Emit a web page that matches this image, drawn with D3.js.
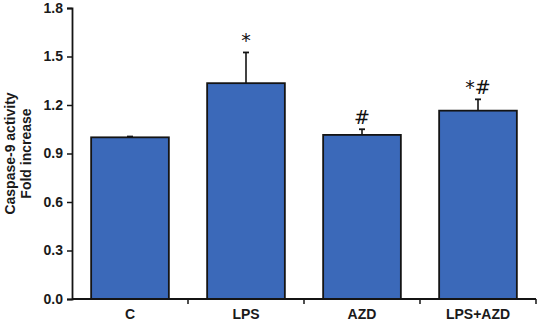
<!DOCTYPE html>
<html>
<head>
<meta charset="utf-8">
<script src="https://cdn.jsdelivr.net/npm/d3@7"></script>
<style>
  body { margin: 0; background: #fff; }
  svg { display: block; font-family: "Liberation Sans", Arial, sans-serif; }
</style>
</head>
<body>
<svg class="chart" width="540" height="322"></svg>
<script>
// data
var groups = ["C", "LPS", "AZD", "LPS+AZD"];
var means = [1.0, 1.335, 1.015, 1.165];
var errors = [0.005, 0.19, 0.035, 0.07];
var marks = ["", "*", "#", "*#"];
var yTicks = [0.0, 0.3, 0.6, 0.9, 1.2, 1.5, 1.8];

var svg = d3.select("svg.chart"),
    margin = { left: 72, right: 4, top: 8, bottom: 23 },
    width = 540 - margin.left - margin.right,
    height = 322 - margin.top - margin.bottom;

var g = svg.append("g").attr("transform", `translate(${margin.left},${margin.top})`);

var x = d3.scaleBand().domain(groups).range([0, width]).paddingInner(0.33).paddingOuter(0.165);
var y = d3.scaleLinear().domain([0, 1.8]).range([height, 0]);

// bars
g.selectAll("rect.bar")
    .data(groups)
    .enter().append("rect")
    .attr("class", "bar")
    .attr("x", (d) => x(d))
    .attr("width", x.bandwidth())
    .attr("y", (d, i) => y(means[i]))
    .attr("height", (d, i) => y(0) - y(means[i]))
    .attr("fill", "#3b69b9")
    .attr("stroke", "#141414")
    .attr("stroke-width", 1.8);

// error bars (upper only)
var err = g.selectAll("g.err").data(groups).enter().append("g").attr("class", "err");
err.append("line")
    .attr("x1", (d) => x(d) + x.bandwidth() / 2)
    .attr("x2", (d) => x(d) + x.bandwidth() / 2)
    .attr("y1", (d, i) => y(means[i]))
    .attr("y2", (d, i) => y(means[i] + errors[i]))
    .attr("stroke", "#141414").attr("stroke-width", 1.6);
err.append("line")
    .attr("x1", (d) => x(d) + x.bandwidth() / 2 - 3)
    .attr("x2", (d) => x(d) + x.bandwidth() / 2 + 3)
    .attr("y1", (d, i) => y(means[i] + errors[i]))
    .attr("y2", (d, i) => y(means[i] + errors[i]))
    .attr("stroke", "#141414").attr("stroke-width", 1.8);

// significance marks
g.selectAll("text.mark")
    .data(groups)
    .enter().append("text")
    .attr("class", "mark")
    .attr("x", (d) => x(d) + x.bandwidth() / 2)
    .attr("y", (d, i) => y(means[i] + errors[i]) - 5)
    .attr("text-anchor", "middle")
    .style("font-family", "'DejaVu Sans', sans-serif")
    .style("font-size", "19px")
    .style("fill", "#111")
    .text((d, i) => marks[i]);

// y axis
var yAxis = g.append("g")
    .call(d3.axisLeft(y).tickValues(yTicks).tickFormat(d3.format(".1f")).tickSizeOuter(0).tickSize(5));
yAxis.select(".domain").attr("stroke", "#141414").attr("stroke-width", 1.8);
yAxis.selectAll(".tick line").attr("stroke", "#141414").attr("stroke-width", 1.5);
yAxis.selectAll(".tick text")
    .attr("x", -9)
    .style("font-size", "14px").style("font-weight", "bold").style("fill", "#1a1a1a");

// x axis: ticks on band boundaries
var xAxis = g.append("g").attr("transform", `translate(0,${height})`);
xAxis.append("line")
    .attr("x1", 0).attr("x2", width)
    .attr("stroke", "#141414").attr("stroke-width", 1.8);
var step = x.step();
xAxis.selectAll("line.tick")
    .data(groups)
    .enter().append("line")
    .attr("class", "tick")
    .attr("x1", (d, i) => (i + 1) * step)
    .attr("x2", (d, i) => (i + 1) * step)
    .attr("y1", 0).attr("y2", 5)
    .attr("stroke", "#141414").attr("stroke-width", 1.5);
xAxis.selectAll("text")
    .data(groups)
    .enter().append("text")
    .attr("x", (d) => x(d) + x.bandwidth() / 2)
    .attr("y", 20)
    .attr("text-anchor", "middle")
    .style("font-size", "14px").style("font-weight", "bold").style("fill", "#1a1a1a")
    .text((d) => d);

// y axis title
var title = svg.append("text")
    .attr("transform", `translate(0,${margin.top + height / 2}) rotate(-90)`)
    .attr("text-anchor", "middle")
    .style("font-size", "14px").style("font-weight", "bold").style("fill", "#1a1a1a");
title.append("tspan").attr("x", 0).attr("y", 15).text("Caspase-9 activity");
title.append("tspan").attr("x", 0).attr("y", 31).text("Fold increase");
</script>
</body>
</html>
